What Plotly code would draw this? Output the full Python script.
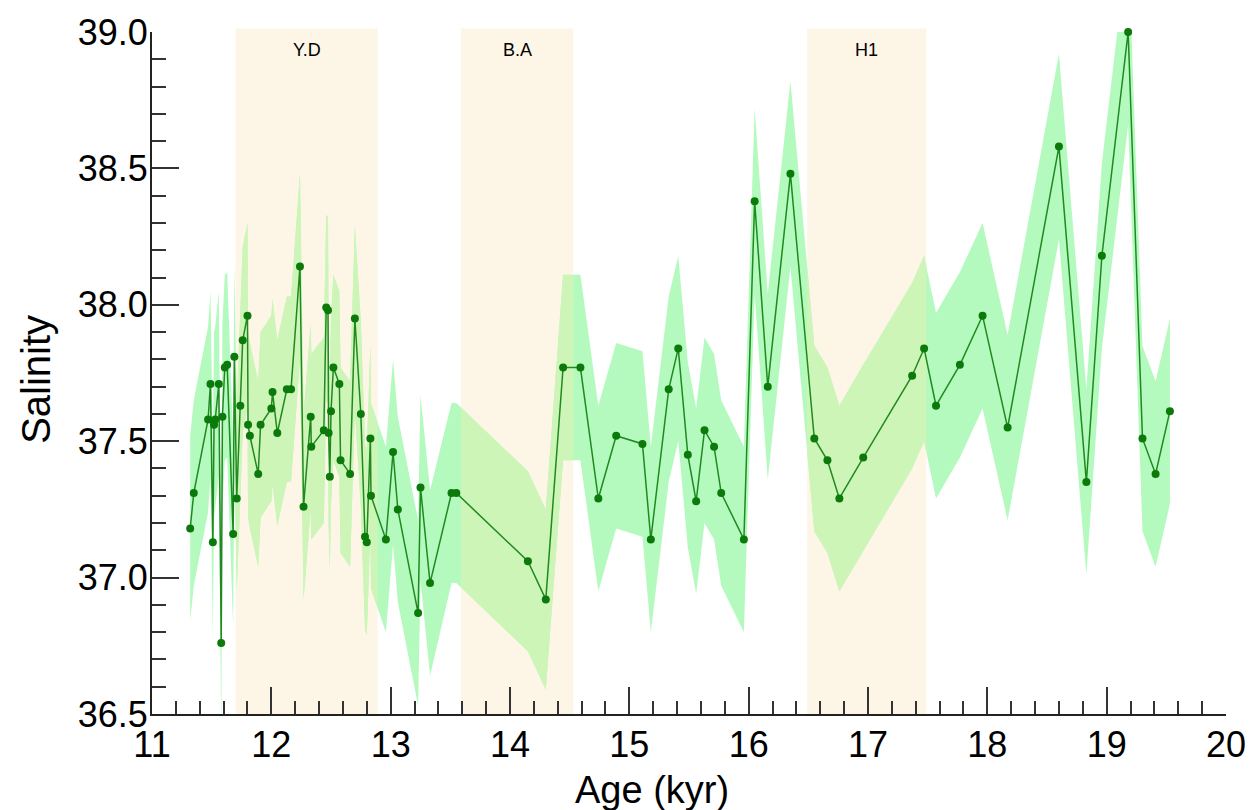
import plotly.graph_objects as go

# ---- data ----
age_kyr = [11.32, 11.35, 11.47, 11.49, 11.51, 11.52, 11.53, 11.56, 11.58, 11.59,
           11.61, 11.63, 11.68, 11.69, 11.71, 11.74, 11.76, 11.80, 11.805, 11.82,
           11.89, 11.91, 12.00, 12.01, 12.05, 12.13, 12.165, 12.24, 12.27, 12.33,
           12.335, 12.44, 12.46, 12.475, 12.48, 12.49, 12.50, 12.52, 12.57, 12.58,
           12.66, 12.70, 12.75, 12.785, 12.80, 12.83, 12.835, 12.96, 13.02, 13.06,
           13.23, 13.25, 13.33, 13.51, 13.55, 14.15, 14.30, 14.445, 14.59, 14.74,
           14.89, 15.11, 15.18, 15.33, 15.41, 15.49, 15.56, 15.63, 15.71, 15.77,
           15.96, 16.05, 16.16, 16.35, 16.55, 16.66, 16.76, 16.96, 17.37, 17.47,
           17.57, 17.77, 17.96, 18.17, 18.60, 18.83, 18.96, 19.18, 19.30, 19.41,
           19.53]
salinity = [37.18, 37.31, 37.58, 37.71, 37.13, 37.56, 37.58, 37.71, 36.76, 37.59,
            37.77, 37.78, 37.16, 37.81, 37.29, 37.63, 37.87, 37.96, 37.56, 37.52,
            37.38, 37.56, 37.62, 37.68, 37.53, 37.69, 37.69, 38.14, 37.26, 37.59,
            37.48, 37.54, 37.99, 37.98, 37.53, 37.37, 37.61, 37.77, 37.71, 37.43,
            37.38, 37.95, 37.60, 37.15, 37.13, 37.51, 37.30, 37.14, 37.46, 37.25,
            36.87, 37.33, 36.98, 37.31, 37.31, 37.06, 36.92, 37.77, 37.77, 37.29,
            37.52, 37.49, 37.14, 37.69, 37.84, 37.45, 37.28, 37.54, 37.48, 37.31,
            37.14, 38.38, 37.70, 38.48, 37.51, 37.43, 37.29, 37.44, 37.74, 37.84,
            37.63, 37.78, 37.96, 37.55, 38.58, 37.35, 38.18, 39.00, 37.51, 37.38,
            37.61]
sal_err = [0.34] * 53 + [0.33, 0.33, 0.33, 0.33] + [0.34] * 34

events = ["Y.D", "B.A", "H1"]
event_start = [11.70, 13.59, 16.49]
event_end = [12.89, 14.53, 17.49]

x_ticks = list(range(11, 21))
y_ticks = [36.5, 37.0, 37.5, 38.0, 38.5, 39.0]

# ---- helpers ----
def interp(xs, ys, x):
    for i in range(len(xs) - 1):
        if xs[i] <= x <= xs[i + 1]:
            t = (x - xs[i]) / (xs[i + 1] - xs[i]) if xs[i + 1] != xs[i] else 0
            return ys[i] + t * (ys[i + 1] - ys[i])
    return None

def clip(xs, ys, x0, x1):
    ox, oy = [], []
    v = interp(xs, ys, x0)
    if v is not None:
        ox.append(x0); oy.append(v)
    for x, y in zip(xs, ys):
        if x0 < x < x1:
            ox.append(x); oy.append(y)
    v = interp(xs, ys, x1)
    if v is not None:
        ox.append(x1); oy.append(v)
    return ox, oy

upper = [s + e for s, e in zip(salinity, sal_err)]
lower = [s - e for s, e in zip(salinity, sal_err)]

fig = go.Figure()
for name, x0, x1 in zip(events, event_start, event_end):
    fig.add_shape(type="rect", xref="x", yref="paper", x0=x0, x1=x1, y0=0, y1=1.005,
                  fillcolor="rgb(253,246,230)", line=dict(width=0), layer="below")
    fig.add_annotation(x=(x0 + x1) / 2, y=0.974, xref="x", yref="paper", text=name,
                       yanchor="middle", showarrow=False, font=dict(size=18, color="black"))

fig.add_trace(go.Scatter(
    x=age_kyr + age_kyr[::-1], y=upper + lower[::-1],
    fill="toself", fillcolor="rgb(180,250,190)", line=dict(width=0),
    mode="lines", hoverinfo="skip", showlegend=False))

for x0, x1 in zip(event_start, event_end):
    ux, uy = clip(age_kyr, upper, x0, x1)
    lx, ly = clip(age_kyr, lower, x0, x1)
    if ux:
        fig.add_trace(go.Scatter(
            x=ux + lx[::-1], y=uy + ly[::-1], fill="toself",
            fillcolor="rgb(206,245,184)", line=dict(width=0),
            mode="lines", hoverinfo="skip", showlegend=False))

fig.add_trace(go.Scatter(
    x=age_kyr, y=salinity, mode="lines+markers",
    line=dict(color="#1f8a1f", width=1.5),
    marker=dict(color="#0b7a0b", size=8),
    cliponaxis=False, showlegend=False))

font = "Liberation Sans, Arial, sans-serif"
axis_common = dict(
    showgrid=False, zeroline=False, showline=True, linecolor="#222", linewidth=2,
    ticks="inside", tickcolor="#333", tickwidth=1.5, ticklen=27,
    tickfont=dict(size=36, color="black", family=font), mirror=False)

fig.update_xaxes(range=[11, 20], tickvals=x_ticks, ticktext=[str(v) for v in x_ticks],
                 minor=dict(ticks="inside", dtick=0.2, ticklen=13, tickcolor="#333", tickwidth=1.5),
                 ticklabelstandoff=-2, **axis_common)
fig.update_yaxes(range=[36.5, 39.0], tickvals=y_ticks, ticktext=[f"{v:.1f}" for v in y_ticks],
                 minor=dict(ticks="inside", dtick=0.1, ticklen=14, tickcolor="#333", tickwidth=1.5),
                 ticklabelstandoff=-5, **axis_common)

fig.add_annotation(x=0.466, y=-0.112, xref="paper", yref="paper", text="Age (kyr)",
                   showarrow=False, font=dict(size=38, color="black", family=font), yanchor="middle")
fig.add_annotation(x=-0.108, y=0.49, xref="paper", yref="paper", text="Salinity", textangle=-90,
                   showarrow=False, font=dict(size=40, color="black", family=font), xanchor="center")

fig.update_layout(
    width=1258, height=810, margin=dict(l=152, r=27, t=31, b=96),
    paper_bgcolor="white", plot_bgcolor="white",
    font=dict(family=font, color="black"))

fig.write_html("out.html")
